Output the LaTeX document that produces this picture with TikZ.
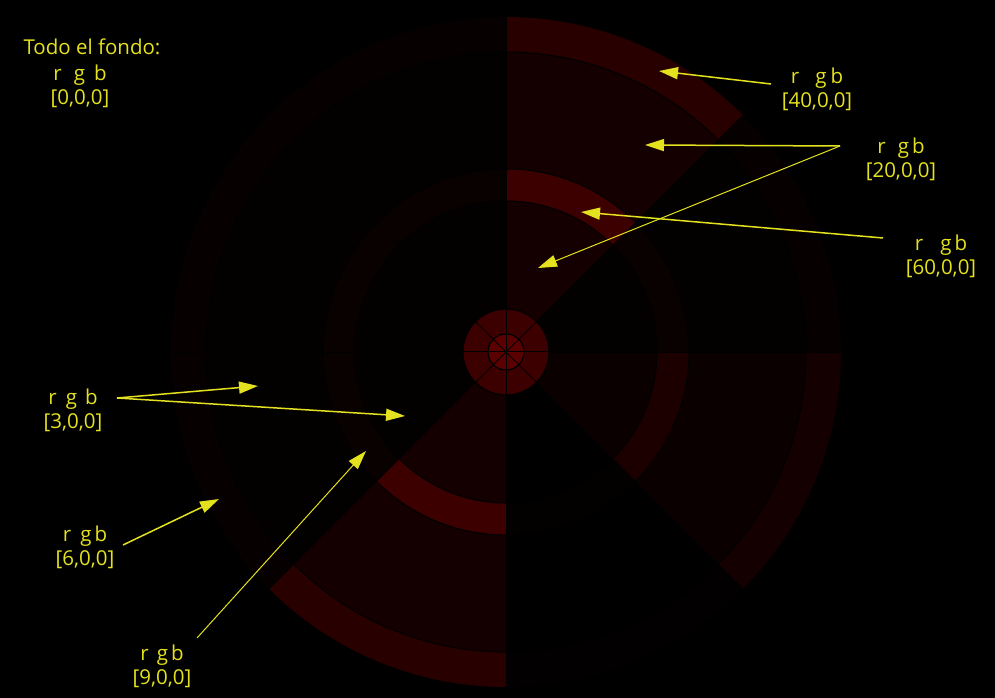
\documentclass[tikz,border=0pt]{standalone}
\usepackage{fontspec}
\setmainfont{Open Sans}
\usetikzlibrary{arrows.meta}
\definecolor{lblyellow}{RGB}{228,226,30}
\definecolor{cdisk}{RGB}{60,0,0}
\definecolor{ccore}{RGB}{90,0,0}
\begin{document}
\begin{tikzpicture}[x=1pt,y=1pt,
  lbl/.style={text=lblyellow, font=\fontsize{20.5}{24}\selectfont, align=center, inner sep=0pt},
  ptr/.style={draw=lblyellow, line width=1.5pt, -{Triangle[length=19pt,width=12pt]}},
  thinptr/.style={ptr, line width=1pt},
  ringline/.style={draw=black, line width=1pt},
  spoke/.style={draw=black, line width=0.5pt}]
\fill[black] (0,0) rectangle (995,698);
\useasboundingbox (0,0) rectangle (995,698);

\begin{scope}[shift={(506,346)}]
  \foreach \a/\ro/\od/\mr/\ri in {0/6/3/9/3, 45/40/20/60/20, 90/6/3/9/3, 135/6/3/9/3,
      180/6/3/9/3, 225/40/20/60/20, 270/2/1/3/1, 315/20/10/28/10}{
    \definecolor{cro}{RGB}{\ro,0,0}
    \definecolor{cod}{RGB}{\od,0,0}
    \definecolor{cmr}{RGB}{\mr,0,0}
    \definecolor{cri}{RGB}{\ri,0,0}
    \fill[cro] (0,0) -- (\a:335) arc[start angle=\a, delta angle=45, radius=335] -- cycle;
    \fill[cod] (0,0) -- (\a:300) arc[start angle=\a, delta angle=45, radius=300] -- cycle;
    \fill[cmr] (0,0) -- (\a:183) arc[start angle=\a, delta angle=45, radius=183] -- cycle;
    \fill[cri] (0,0) -- (\a:151) arc[start angle=\a, delta angle=45, radius=151] -- cycle;
  }
  \foreach \r in {300,183,151}{\draw[ringline] (0,0) circle[radius=\r];}
  \foreach \a in {0,45,...,315}{\draw[spoke] (0,0) -- (\a:335);}
  \fill[cdisk] (0,0) circle[radius=43];
  \fill[ccore] (0,0) circle[radius=18];
  \foreach \a in {0,45,...,315}{\draw[black, line width=1pt] (0,0) -- (\a:43);}
  \draw[black, line width=1.2pt] (0,0) circle[radius=43];
  \draw[black, line width=1.2pt] (0,0) circle[radius=18];
\end{scope}

% labels
\node[lbl] (fondo) at (92,651) {Todo el fondo:};
\node[lbl] (l0) at (80,611.5) {r\hspace{12pt}g\hspace{9pt}b\\{}[0,0,0]};
\node[lbl] (l40) at (817,609) {r\hspace{16pt}g\hspace{4pt}b\\{}[40,0,0]};
\node[lbl] (l20) at (901,538.5) {r\hspace{12pt}g\hspace{3pt}b\\{}[20,0,0]};
\node[lbl] (l60) at (941,441.5) {r\hspace{17pt}g\hspace{3pt}b\\{}[60,0,0]};
\node[lbl] (l3) at (73,287.5) {r\hspace{9pt}g\hspace{8pt}b\\{}[3,0,0]};
\node[lbl] (l6) at (85,151) {r\hspace{9pt}g\hspace{3pt}b\\{}[6,0,0]};
\node[lbl] (l9) at (162,31.5) {r\hspace{8pt}g\hspace{3pt}b\\{}[9,0,0]};

% arrow ends
\coordinate (s40) at (771,614);  \coordinate (t40) at (659,627);
\coordinate (s20) at (840,552);  \coordinate (t20a) at (645,553); \coordinate (t20b) at (538,430);
\coordinate (s60) at (883,460);  \coordinate (t60) at (581,486);
\coordinate (s3) at (117,300);   \coordinate (t3a) at (258,312); \coordinate (t3b) at (405,282);
\coordinate (s6) at (123,153);   \coordinate (t6) at (219,199);
\coordinate (s9) at (197,60);    \coordinate (t9) at (366,247);

\draw[ptr] (s40) -- (t40);
\draw[ptr] (s20) -- (t20a);
\draw[thinptr] (s20) -- (t20b);
\draw[ptr] (s60) -- (t60);
\draw[ptr] (s3) -- (t3a);
\draw[ptr] (s3) -- (t3b);
\draw[ptr] (s6) -- (t6);
\draw[thinptr] (s9) -- (t9);
\end{tikzpicture}
\end{document}
